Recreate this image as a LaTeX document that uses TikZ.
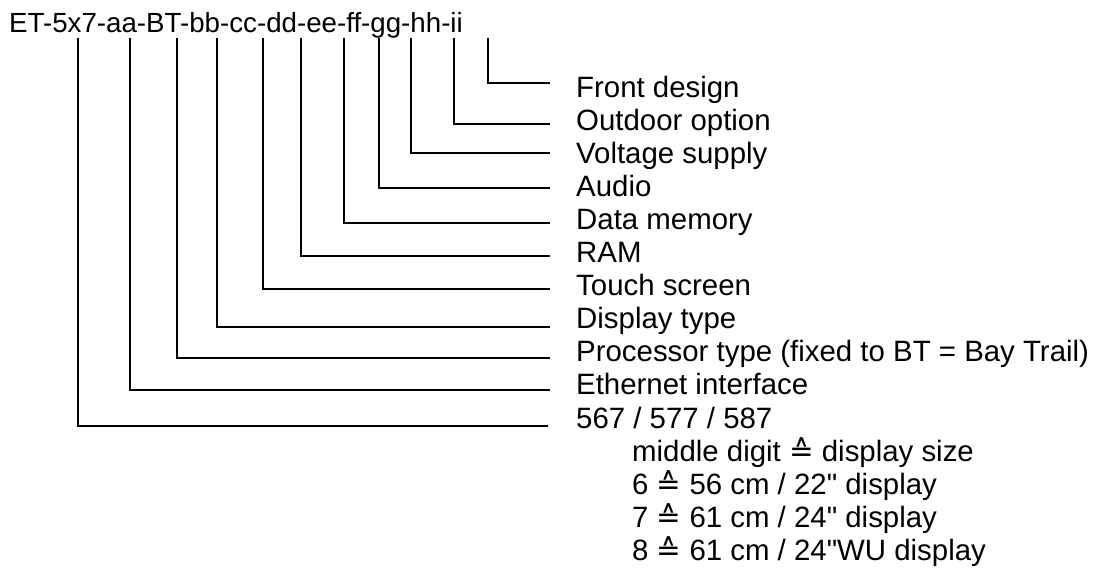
\documentclass[tikz,border=0pt]{standalone}
\usepackage{fontspec}
\setmainfont{Liberation Sans}[Ligatures=TeXOff]
\newfontfamily\symfont{DejaVu Sans}
\newcommand{\corr}{{\symfont ≙}}
\begin{document}
\begin{tikzpicture}[x=1pt,y=-1pt,
  lbl/.style={anchor=base west,inner sep=0pt,font=\fontsize{29.4}{31}\selectfont},
  conn/.style={line width=1.6pt}]
\useasboundingbox (0,0) rectangle (1094,581);
\node[anchor=base west,inner sep=0pt,font=\fontsize{27.7}{30}\selectfont] (title) at (9,32) {ET-5x7-aa-BT-bb-cc-dd-ee-ff-gg-hh-ii};
% start points under the code letters
\coordinate (s11) at (488,38);
\coordinate (s10) at (454,38);
\coordinate (s9) at (411,38);
\coordinate (s8) at (379,38);
\coordinate (s7) at (344,38);
\coordinate (s6) at (301,38);
\coordinate (s5) at (263,38);
\coordinate (s4) at (217,38);
\coordinate (s3) at (177,38);
\coordinate (s2) at (130,38);
\coordinate (s1) at (78,38);
% end points
\coordinate (e11) at (550,83);
\coordinate (e10) at (550,124);
\coordinate (e9) at (550,153);
\coordinate (e8) at (550,188);
\coordinate (e7) at (550,223);
\coordinate (e6) at (550,256);
\coordinate (e5) at (550,289);
\coordinate (e4) at (550,327);
\coordinate (e3) at (550,358);
\coordinate (e2) at (550,390);
\coordinate (e1) at (548,426);
% labels
\node[lbl] (l11) at (576,97) {Front design};
\node[lbl] (l10) at (576,130.1) {Outdoor option};
\node[lbl] (l9) at (576,163.2) {Voltage supply};
\node[lbl] (l8) at (576,196.3) {Audio};
\node[lbl] (l7) at (576,229.4) {Data memory};
\node[lbl] (l6) at (576,262.5) {RAM};
\node[lbl] (l5) at (576,295.6) {Touch screen};
\node[lbl] (l4) at (576,328.7) {Display type};
\node[lbl] (l3) at (576,361.8) {Processor type (fixed to BT = Bay Trail)};
\node[lbl] (l2) at (576,394.9) {Ethernet interface};
\node[lbl] (l1) at (576,428) {567 / 577 / 587};
\node[lbl] (m1) at (632,461.1) {middle digit \corr{} display size};
\node[lbl] (m2) at (632,494.2) {6 \corr{} 56 cm / 22" display};
\node[lbl] (m3) at (632,527.3) {7 \corr{} 61 cm / 24" display};
\node[lbl] (m4) at (632,560.4) {8 \corr{} 61 cm / 24"WU display};
% connectors
\foreach \i in {1,...,11} \draw[conn] (s\i) |- (e\i);
\end{tikzpicture}
\end{document}
